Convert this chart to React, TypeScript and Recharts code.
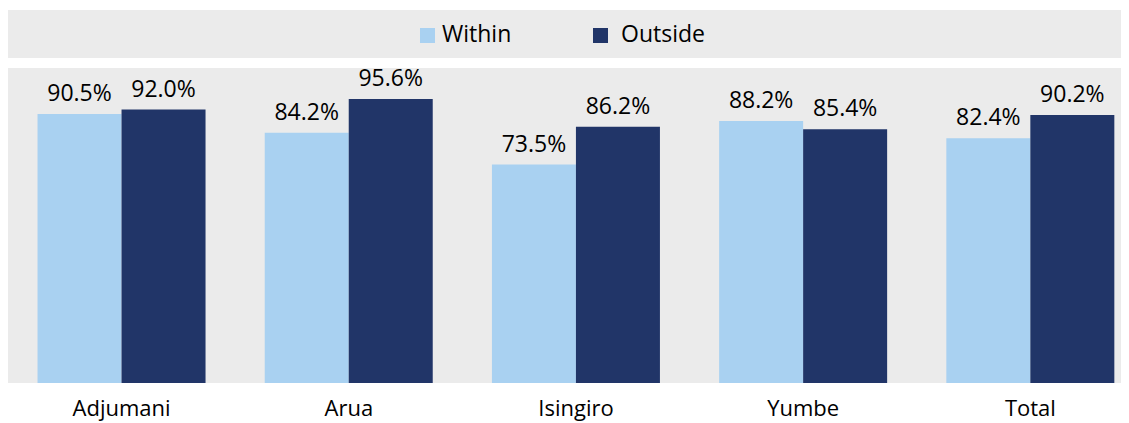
import { BarChart, Bar, XAxis, YAxis, CartesianGrid, LabelList } from 'recharts';

const districts = ['Adjumani', 'Arua', 'Isingiro', 'Yumbe', 'Total'];
const within = [90.5, 84.2, 73.5, 88.2, 82.4];
const outside = [92.0, 95.6, 86.2, 85.4, 90.2];

const data = districts.map((name, i) => ({ name, within: within[i], outside: outside[i] }));

const LIGHT = '#a9d1f1';
const DARK = '#213568';
const GREY = '#ebebeb';
const FONT = '"Open Sans", sans-serif';
const textStyle = { fill: '#000', fontSize: 23, fontFamily: FONT };

const pct = (v: any) => `${Number(v).toFixed(1)}%`;

export default function App() {
    return (
        <div style={{ position: 'relative', width: 1121, height: 415, overflow: 'hidden', fontFamily: FONT }}>
            {/* legend band */}
            <div style={{ position: 'absolute', left: 0, top: 2, width: 1121, height: 48, background: GREY }}>
                <div style={{ position: 'absolute', left: 412, top: 18, width: 15, height: 15, background: LIGHT }} />
                <div style={{ position: 'absolute', left: 434, top: 8, fontSize: 23, lineHeight: '30px', color: '#000' }}>Within</div>
                <div style={{ position: 'absolute', left: 585, top: 18, width: 15, height: 15, background: DARK }} />
                <div style={{ position: 'absolute', left: 613, top: 8, fontSize: 23, lineHeight: '30px', color: '#000' }}>Outside</div>
            </div>
            <BarChart
                width={1136}
                height={415}
                data={data}
                margin={{ top: 60, right: 0, left: 0, bottom: 0 }}
                barCategoryGap="13%"
                barGap={0}
            >
                <CartesianGrid horizontal={false} vertical={false} fill={GREY} />
                <XAxis
                    dataKey="name"
                    axisLine={false}
                    tickLine={false}
                    height={40}
                    tickMargin={11}
                    tick={{ ...textStyle, fontSize: 22 }}
                />
                <YAxis hide domain={[0, 106]} />
                <Bar dataKey="within" fill={LIGHT} isAnimationActive={false}>
                    <LabelList dataKey="within" position="top" offset={13} formatter={pct} style={textStyle} />
                </Bar>
                <Bar dataKey="outside" fill={DARK} isAnimationActive={false}>
                    <LabelList dataKey="outside" position="top" offset={13} formatter={pct} style={textStyle} />
                </Bar>
            </BarChart>
        </div>
    );
}
